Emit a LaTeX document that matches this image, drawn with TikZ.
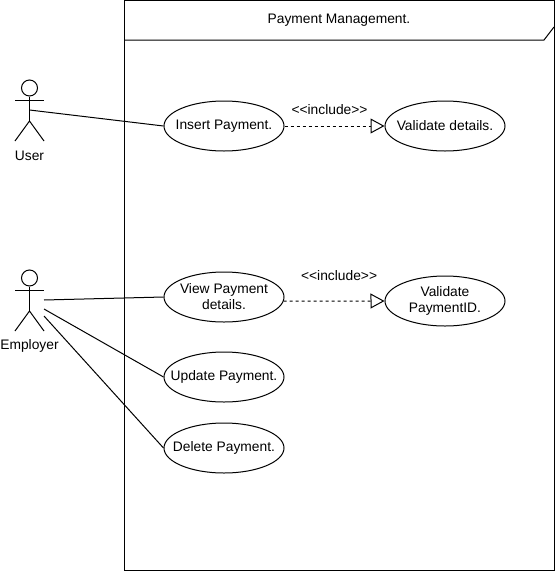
\documentclass[tikz,border=0pt]{standalone}
\usepackage{fontspec}
\setmainfont{Liberation Sans}
\usetikzlibrary{arrows.meta,positioning,shapes.geometric}
\tikzset{
  usecase/.style={draw,ellipse,inner sep=-15pt,minimum width=120pt,minimum height=50pt,align=center},
  actorhead/.style={draw,circle,inner sep=0pt,minimum size=16pt},
  include/.style={-{Triangle[open,length=14pt,width=15pt]},dash pattern=on 3pt off 3pt}
}
\begin{document}
\begin{tikzpicture}[x=1pt,y=-1pt,line width=1pt,every node/.style={font=\fontsize{13.8pt}{16pt}\selectfont}]
  \useasboundingbox (0,0) rectangle (555,571);
  \node[draw,minimum width=429.5pt,minimum height=570pt,inner sep=0pt] (frame) at (339.25,285.5) {};
  \node (title) at (339,20.5) {Payment Management.};
  \coordinate (tabend) at (544,40);
  \coordinate (tabtop) at (554,27);
  \draw (frame.west |- tabend) -- (tabend) -- (tabtop);

  \node[usecase] (insert) at (224,126) {Insert Payment.};
  \node[usecase,right=100pt of insert] (validate) {Validate details.};
  \node[usecase,below=120pt of insert] (view) {View Payment\\details.};
  \node[usecase,right=100pt of view,yshift=-4pt] (validateid) {Validate\\PaymentID.};
  \node[usecase,below=29pt of view] (update) {Update Payment.};
  \node[usecase,below=20pt of update] (delete) {Delete Payment.};

  % actors
  \foreach \a/\ay/\lbl in {user/88/User,employer/278/Employer}{
    \node[actorhead] (\a) at (29.5,\ay) {};
    \coordinate (\a arml) at (15,\ay+12);
    \coordinate (\a armr) at (44,\ay+12);
    \coordinate (\a hip) at (29.5,\ay+33);
    \coordinate (\a footl) at (15,\ay+53);
    \coordinate (\a footr) at (44,\ay+53);
    \draw (\a) -- (\a hip);
    \draw (\a arml) -- (\a armr);
    \draw (\a footl) -- (\a hip) -- (\a footr);
    \node (\a label) at (29.5,\ay+68) {\lbl};
  }

  \coordinate (userhand) at (29.5,110);
  \coordinate (emphanda) at (44,300);
  \coordinate (emphandb) at (44,309);
  \coordinate (emphandc) at (44,316);
  \draw (userhand) -- (insert.west);
  \draw (emphanda) -- (view.west);
  \draw (emphandb) -- (update.west);
  \draw (emphandc) -- (delete.west);

  \draw[include] (insert.east) -- (validate.west) node[midway,above=8pt,xshift=-5pt] (inclone) {<{}<include>{}>};
  \draw[include] (view.-4) -- (validateid.west) node[midway,above=17pt,xshift=5pt] (incltwo) {<{}<include>{}>};
\end{tikzpicture}
\end{document}
